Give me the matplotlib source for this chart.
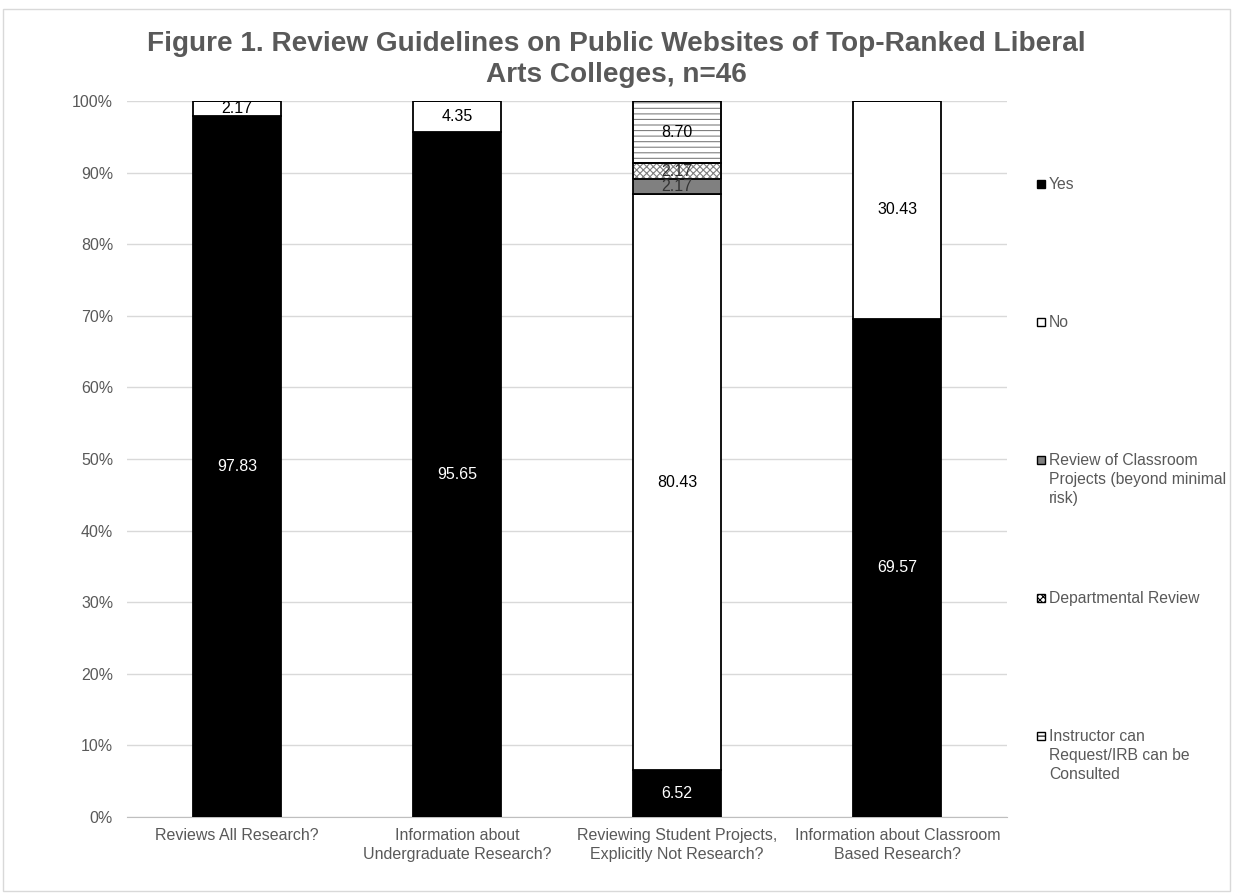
import matplotlib
matplotlib.use("Agg")
import matplotlib.pyplot as plt
from matplotlib.patches import Rectangle
import numpy as np

plt.rcParams['font.family'] = ['Liberation Sans', 'DejaVu Sans']
plt.rcParams['hatch.linewidth'] = 0.8

categories = ["Reviews All Research?",
              "Information about\nUndergraduate Research?",
              "Reviewing Student Projects,\nExplicitly Not Research?",
              "Information about Classroom\nBased Research?"]
series_names = ["Yes", "No", "Review of Classroom\nProjects (beyond minimal\nrisk)",
                "Departmental Review", "Instructor can\nRequest/IRB can be\nConsulted"]
yes = [97.83, 95.65, 6.52, 69.57]
no = [2.17, 4.35, 80.43, 30.43]
review_classroom = [0, 0, 2.17, 0]
departmental = [0, 0, 2.17, 0]
instructor = [0, 0, 8.70, 0]
yticks = [0, 10, 20, 30, 40, 50, 60, 70, 80, 90, 100]
title = "Figure 1. Review Guidelines on Public Websites of Top-Ranked Liberal\nArts Colleges, n=46"

series = [yes, no, review_classroom, departmental, instructor]
faces = ["black", "white", "#808080", "white", "white"]
hatches = [None, None, None, "xxxxx", "---"]
textcolors = ["white", "black", "#333333", "#333333", "black"]

fig = plt.figure(figsize=(12.33, 8.94), dpi=100)
ax = fig.add_axes([0.103, 0.0861, 0.714, 0.801])

x = np.arange(len(categories))
bottom = np.zeros(len(categories))
gray = "#595959"
for vals, fc, h, tc in zip(series, faces, hatches, textcolors):
    vals = np.array(vals)
    bars = ax.bar(x, vals, 0.4, bottom=bottom, color=fc, edgecolor="black",
                  linewidth=1.3, hatch=h, zorder=3)
    if h:
        for b in bars:
            b.set_edgecolor("#7f7f7f")
        ax.bar(x, vals, 0.4, bottom=bottom, color="none", edgecolor="black",
               linewidth=1.3, zorder=4)
    for xi, v, b0 in zip(x, vals, bottom):
        if v > 0:
            ax.text(xi, b0 + v / 2, f"{v:.2f}", ha="center", va="center",
                    color=tc, fontsize=11.5, zorder=5)
    bottom += vals

ax.set_xlim(-0.5, len(categories) - 0.5)
ax.set_ylim(0, 100)
ax.set_yticks(yticks)
ax.set_yticklabels([f"{t}%" for t in yticks], color=gray, fontsize=11.5)
ax.set_xticks(x)
ax.set_xticklabels(categories, color=gray, fontsize=11.5, linespacing=1.3)
ax.tick_params(axis='x', length=0, pad=8)
ax.tick_params(axis='y', length=0, pad=10)
ax.grid(axis='y', color="#d9d9d9", linewidth=1, zorder=0)
for s in ["top", "right", "left"]:
    ax.spines[s].set_visible(False)
ax.spines["bottom"].set_color("#bfbfbf")

fig.text(0.5, 0.965, title, ha="center", va="top", fontsize=20.2,
         fontweight="bold", color=gray, linespacing=1.25)

# legend
leg_y = [184, 322, 460, 598, 736]
W, H = 1233, 894
for name, fc, h, ly in zip(series_names, faces, hatches, leg_y):
    yc = 1 - ly / H
    r = Rectangle((1037 / W, yc - 4 / H), 8 / W, 8 / H, transform=fig.transFigure,
                  facecolor=fc, edgecolor="black", linewidth=1, hatch=h)
    fig.add_artist(r)
    fig.text(1049 / W, yc + 7 / H, name, ha="left", va="top", fontsize=11.3,
             color=gray, linespacing=1.33)

fig.add_artist(Rectangle((3 / W, 3 / H), 1227 / W, (H - 12) / H,
                         transform=fig.transFigure, facecolor="none",
                         edgecolor="#d9d9d9", linewidth=1))

fig.savefig("out.png", dpi=100)
